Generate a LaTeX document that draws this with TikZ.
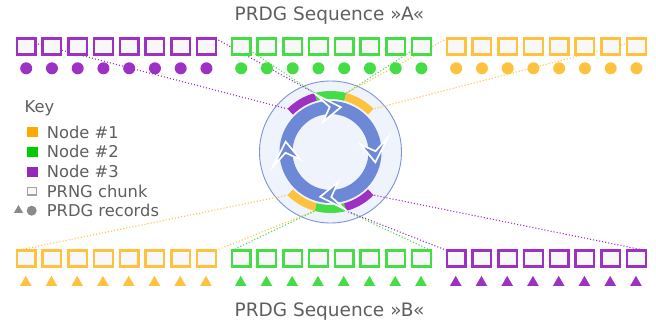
\documentclass[tikz,border=0pt]{standalone}
\usepackage{fontspec}
\setmainfont{DejaVu Sans}
\usetikzlibrary{shapes.geometric}
\pgfdeclarelayer{bg}
\pgfdeclarelayer{lines}
\pgfsetlayers{bg,lines,main}
\definecolor{cpur}{HTML}{9C31C4}
\definecolor{cgrn}{HTML}{45DD45}
\definecolor{corg}{HTML}{FFC23F}
\definecolor{kpur}{HTML}{9628B8}
\definecolor{kgrn}{HTML}{00CC00}
\definecolor{korg}{HTML}{FFA800}
\definecolor{ringblue}{HTML}{6E88D8}
\definecolor{circfill}{HTML}{EFF3FB}
\definecolor{circline}{HTML}{7C93DA}
\definecolor{txt}{HTML}{5E5E5E}
\definecolor{boxfill}{HTML}{F8F8F8}
\definecolor{keygray}{HTML}{8A8A8A}
\begin{document}
\begin{tikzpicture}[x=1pt,y=1pt,
 chunk/.style={draw=#1, fill=boxfill, line width=2.4pt, minimum width=18.6pt, minimum height=15.8pt, inner sep=0pt, outer sep=0pt},
 rdot/.style={circle, fill=#1, minimum size=12pt, inner sep=0pt},
 rtri/.style={regular polygon, regular polygon sides=3, fill=#1, minimum size=13.5pt, inner sep=0pt},
 link/.style={draw=#1, line width=1.1pt, dash pattern=on 1.1pt off 2pt},
 seg/.style={draw=#1, line width=8pt},
 head/.style={fill=ringblue, draw=white, line width=1.7pt, line join=miter},
 klabel/.style={text=txt, inner sep=0pt, anchor=base west, font=\fontsize{16.3}{19}\selectfont},
 ktitle/.style={text=txt, inner sep=0pt, anchor=base, font=\fontsize{18.5}{22}\selectfont},
 swatch/.style={fill=#1, minimum width=11pt, minimum height=10pt, inner sep=0pt}]
\useasboundingbox (0,0) rectangle (656,-321);

% hub circle
\begin{pgfonlayer}{bg}
\node[circle, draw=circline, fill=circfill, line width=0.9pt, minimum size=142pt, inner sep=0pt] (hub) at (330.5,-152) {};
\end{pgfonlayer}
\foreach \a in {45,75,105,135,225,255,285,315} {
  \path (hub.center) ++(\a:61) coordinate (e\a);
}

% chunks and records
\foreach \i in {1,...,8} {
  \node[chunk=cpur] (pa\i) at ({26.2+25.75*(\i-1)},-46.5) {};
  \node[chunk=cgrn] (ga\i) at ({241.2+25.75*(\i-1)},-46.5) {};
  \node[chunk=corg] (oa\i) at ({456.2+25.75*(\i-1)},-46.5) {};
  \node[rdot=cpur] (pd\i) at ({26.2+25.75*(\i-1)},-68.3) {};
  \node[rdot=cgrn] (gd\i) at ({241.2+25.75*(\i-1)},-68.3) {};
  \node[rdot=corg] (od\i) at ({456.2+25.75*(\i-1)},-68.3) {};
  \node[chunk=corg] (ob\i) at ({26.2+25.75*(\i-1)},-258.4) {};
  \node[chunk=cgrn] (gb\i) at ({241.2+25.75*(\i-1)},-258.4) {};
  \node[chunk=cpur] (pb\i) at ({456.2+25.75*(\i-1)},-258.4) {};
  \node[rtri=corg] (ot\i) at ({25.7+25.75*(\i-1)},-282.6) {};
  \node[rtri=cgrn] (gt\i) at ({240.7+25.75*(\i-1)},-282.6) {};
  \node[rtri=cpur] (pt\i) at ({455.7+25.75*(\i-1)},-282.6) {};
}

% dotted links
\begin{pgfonlayer}{lines}
\draw[link=cpur] (pa1.north west) -- (e135);
\draw[link=cpur] (pa8.north east) -- (e105);
\draw[link=cgrn] (ga1.north west) -- (e105);
\draw[link=cgrn] (ga8.north east) -- (e75);
\draw[link=corg] (oa1.north west) -- (e75);
\draw[link=corg] (oa8.north east) -- (e45);
\draw[link=corg] (ob1.north west) -- (e225);
\draw[link=corg] (ob8.north east) -- (e255);
\draw[link=cgrn] (gb1.north west) -- (e255);
\draw[link=cgrn] (gb8.north east) -- (e285);
\draw[link=cpur] (pb1.north west) -- (e285);
\draw[link=cpur] (pb8.north east) -- (e315);
\end{pgfonlayer}

% coloured arc segments
\draw[seg=cpur] (hub.center) ++(135:57) arc[start angle=135, end angle=105, radius=57];
\draw[seg=cgrn] (hub.center) ++(105:57) arc[start angle=105, end angle=75, radius=57];
\draw[seg=corg] (hub.center) ++(75:57) arc[start angle=75, end angle=45, radius=57];
\draw[seg=corg] (hub.center) ++(225:57) arc[start angle=225, end angle=255, radius=57];
\draw[seg=cgrn] (hub.center) ++(255:57) arc[start angle=255, end angle=285, radius=57];
\draw[seg=cpur] (hub.center) ++(285:57) arc[start angle=285, end angle=315, radius=57];

% blue cycle ring with heads
\draw[ringblue, line width=13pt] (hub.center) circle[radius=44.5];
\foreach \t in {77,-13,-103,167} {
  \path[head] ([shift={(\t:46)}]hub.center) -- ([shift={({\t+27}:59)}]hub.center)
    -- ([shift={({\t+14}:45)}]hub.center) -- ([shift={({\t+27}:31)}]hub.center) -- cycle;
}

% titles
\node[ktitle] (ta) at (329.5,-20.7) {PRDG Sequence »A«};
\node[ktitle] (tb) at (329.5,-316) {PRDG Sequence »B«};

% key
\node[klabel] (kkey) at (24.5,-112) {Key};
\node[klabel] (k1) at (46.7,-138.3) {Node \#1};
\node[klabel] (k2) at (46.7,-157.9) {Node \#2};
\node[klabel] (k3) at (46.7,-177.5) {Node \#3};
\node[klabel] (k4) at (46.7,-197.1) {PRNG chunk};
\node[klabel] (k5) at (46.7,-216.7) {PRDG records};
\node[swatch=korg] (s1) at (32.2,-132.3) {};
\node[swatch=kgrn] (s2) at (32.2,-151.9) {};
\node[swatch=kpur] (s3) at (32.2,-171.5) {};
\node[draw=keygray!80, fill=boxfill, line width=1.2pt, minimum width=8.8pt, minimum height=7.8pt, inner sep=0pt] (s4) at (32.2,-191.1) {};
\node[regular polygon, regular polygon sides=3, fill=keygray, minimum size=10.5pt, inner sep=0pt] (s5a) at (18.5,-210.2) {};
\node[circle, fill=keygray, minimum size=10pt, inner sep=0pt] (s5b) at (31.7,-210.7) {};
\end{tikzpicture}
\end{document}
